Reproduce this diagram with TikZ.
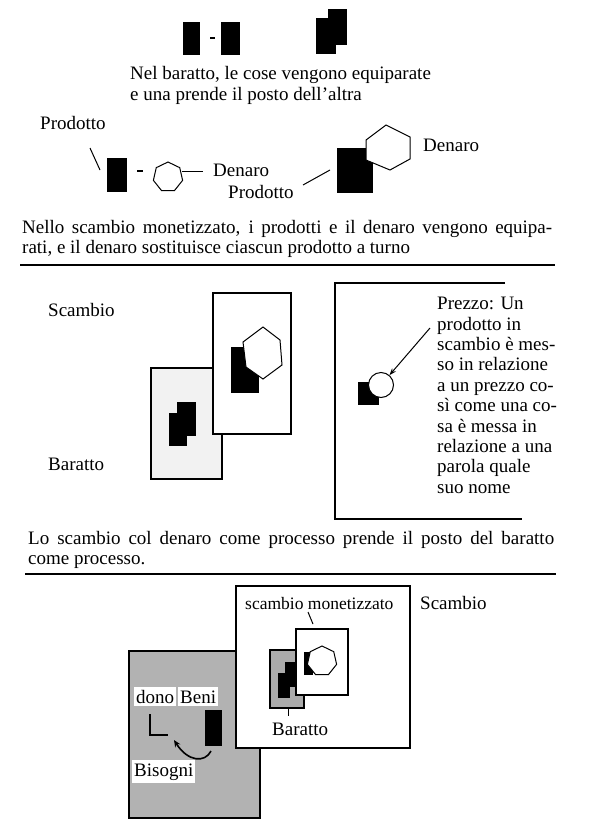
\documentclass[tikz,border=0pt]{standalone}
\usepackage{fontspec}
\setmainfont{Liberation Serif}
\usetikzlibrary{shapes.geometric,arrows.meta}
\begin{document}
\begin{tikzpicture}[x=1pt,y=-1pt,
  lbl/.style={font=\fontsize{19}{22}\selectfont, anchor=base west, inner sep=0pt},
  wlbl/.style={lbl, fill=white, inner xsep=2pt, inner ysep=3pt},
  frame/.style={draw=black, line width=1.3pt},
  rule/.style={line width=1.3pt},
  thin/.style={line width=1pt},
  hepta/.style={regular polygon, regular polygon sides=7, draw, fill=white, line width=1pt, inner sep=0pt},
]
\useasboundingbox (0,0) rectangle (600,825);

% ---------- Section 1 ----------
\fill (183,22) rectangle (200,55);
\draw[line width=2pt] (210,38) -- (215,38);
\fill (221,22) rectangle (240,55);
\fill (328,9) rectangle (347,45);
\fill (316,18) rectangle (336,54);
\node[lbl] (t1) at (130,79) {Nel baratto, le cose vengono equiparate};
\node[lbl] (t2) at (130,100) {e una prende il posto dell’altra};

% ---------- Section 2 ----------
\node[lbl] (prod1) at (40,129) {Prodotto};
\coordinate (s1a) at (90,148);
\coordinate (s1b) at (100,170);
\draw[thin] (s1a) -- (s1b);
\fill (107,158) rectangle (127,192);
\draw[line width=2.5pt] (137,171) -- (143,171);
\node[hepta, minimum size=30pt] (hep1) at (168,177) {};
\node[lbl] (den1) at (213,176) {Denaro};
\coordinate (h1r) at (182,171);
\coordinate (h1e) at (203,171);
\draw[thin] (h1r) -- (h1e);
\fill (337,148) rectangle (373,193);
\draw[thin, fill=white] (386,125) -- (410,137) -- (410,159) -- (390,170) -- (366,160) -- (366,140) -- cycle;
\node[lbl] (prod2) at (228,198) {Prodotto};
\node[lbl] (den2) at (423,151) {Denaro};
\coordinate (s2a) at (303,185);
\coordinate (s2b) at (330,170);
\draw[thin] (s2a) -- (s2b);
\node[lbl] (t3) at (22,233) {\hbox to 530pt{Nello scambio monetizzato, i prodotti e il denaro vengono equipa-}};
\node[lbl] (t4) at (22,253) {rati, e il denaro sostituisce ciascun prodotto a turno};
\draw[rule] (20,265) -- (555,265);

% ---------- Section 3 ----------
\node[lbl] (sc1) at (48,316) {Scambio};
\node[lbl] (ba1) at (48,470) {Baratto};
\draw[frame, fill=black!5] (151,368) rectangle (222,479);
\fill (177,402) rectangle (196,436);
\fill (169,413) rectangle (187,446);
\draw[frame, fill=white] (213,293) rectangle (291,434);
\fill (231,347) rectangle (259,393);
\draw[thin, fill=white] (263,327) -- (280,340) -- (282,365) -- (263,379) -- (246,367) -- (243,342) -- cycle;

\draw[frame] (505,283) -- (335,283) -- (335,519) -- (522,519);
\fill (358,382) rectangle (379,405);
\node[circle, draw, fill=white, thin, minimum size=25pt, inner sep=0pt] (circ) at (381,385) {};
\coordinate (arr) at (430,328);
\draw[thin, -{Stealth[length=7pt,width=5pt]}] (arr) -- (circ);
\node[lbl, anchor=north west, align=left, font=\fontsize{19}{20.4}\selectfont] (prezzo) at (437,297)
  {Prezzo: Un\\prodotto in\\scambio è mes-\\so in relazione\\a un prezzo co-\\sì come una co-\\sa è messa in\\relazione a una\\parola quale\\suo nome};

\node[lbl] (t5) at (28,544) {\hbox to 526pt{Lo scambio col denaro come processo prende il posto del baratto}};
\node[lbl] (t6) at (28,564) {come processo.};
\draw[rule] (25,574) -- (556,574);

% ---------- Section 4 ----------
\draw[frame, fill=black!30] (129,651) rectangle (260,818);
\draw[frame, fill=white] (236,586) rectangle (410,748);
\node[lbl] (sc2) at (420,609) {Scambio};
\node[lbl, font=\fontsize{17.5}{20}\selectfont] (smon) at (245,609) {scambio monetizzato};
\coordinate (m1) at (308,612);
\coordinate (m2) at (313,624);
\draw[thin] (m1) -- (m2);
\draw[frame, fill=black!33] (270,650) rectangle (304,708);
\fill (285,662) rectangle (297,687);
\fill (278,673) rectangle (290,698);
\draw[frame, fill=white] (296,629) rectangle (348,695);
\fill (304,652) rectangle (313,675);
\node[hepta, minimum size=30pt] (hep2) at (322,661) {};
\coordinate (b1) at (288,708);
\coordinate (b2) at (288,716);
\draw[thin] (b1) -- (b2);
\node[lbl] (ba2) at (272,735) {Baratto};

\node[wlbl] (dono) at (134,703) {dono};
\node[wlbl] (beni) at (178,703) {Beni};
\fill (205,710) rectangle (222,746);
\draw[line width=2.5pt] (150,714) -- (150,735) -- (168,735);
\node[wlbl] (bis) at (132,776) {Bisogni};
\coordinate (c1) at (211,751);
\coordinate (c2) at (174,740);
\draw[line width=1.6pt, -{Stealth[length=7pt,width=6pt]}] (c1) .. controls (205,763) and (188,762) .. (c2);
\end{tikzpicture}
\end{document}
